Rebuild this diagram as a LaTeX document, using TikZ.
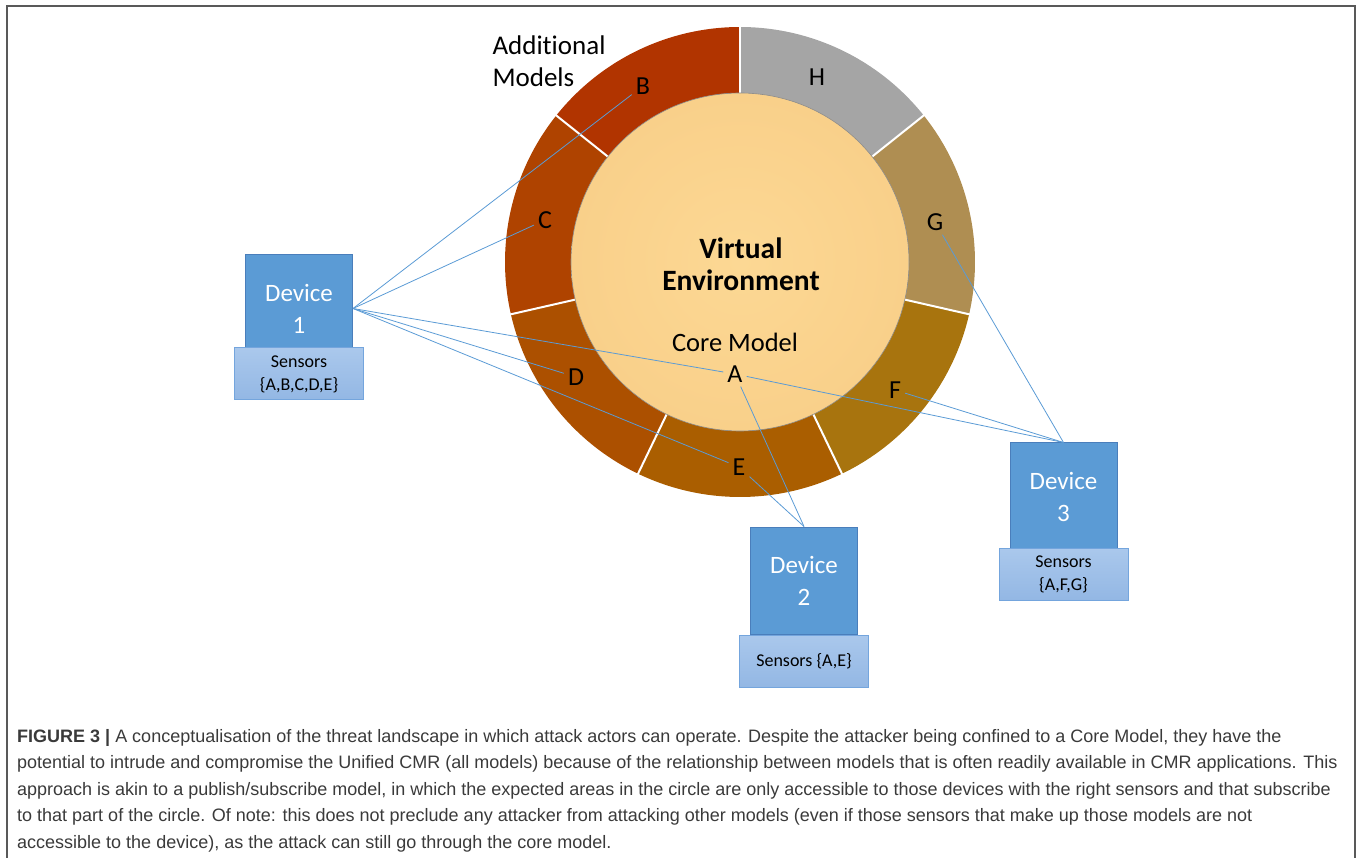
\documentclass[tikz,border=0pt]{standalone}
\usepackage{fontspec}
\setmainfont{Carlito}[Ligatures=NoCommon]
\newfontfamily\capfont{Liberation Sans}
\usetikzlibrary{positioning}

\definecolor{segB}{HTML}{B13400}
\definecolor{segC}{HTML}{AF4300}
\definecolor{segD}{HTML}{AC5000}
\definecolor{segE}{HTML}{AA5E00}
\definecolor{segF}{HTML}{A8740E}
\definecolor{segG}{HTML}{AF8E52}
\definecolor{segH}{HTML}{A5A5A5}
\definecolor{coreIn}{HTML}{FCD894}
\definecolor{coreOut}{HTML}{F9D08A}
\definecolor{devFill}{HTML}{5B9BD5}
\definecolor{devLine}{HTML}{4A7EBB}
\definecolor{sensTop}{HTML}{AAC8EC}
\definecolor{sensBot}{HTML}{93B7E4}
\definecolor{sensLine}{HTML}{74A5DD}
\definecolor{linkCol}{HTML}{5B9BD5}
\definecolor{capText}{HTML}{3A3A3A}

\tikzset{
  device/.style={draw=devLine, fill=devFill, line width=1pt, text=white,
    minimum width=107, minimum height=107, align=center,
    font=\fontsize{25}{32}\selectfont},
  sensors/.style={draw=sensLine, top color=sensTop, bottom color=sensBot,
    line width=1pt, minimum width=129, minimum height=52, align=center,
    font=\fontsize{18}{23}\selectfont},
  seglabel/.style={font=\fontsize{26}{30}\selectfont, inner sep=4pt},
  link/.style={draw=linkCol, line width=0.8pt},
}

\begin{document}
\begin{tikzpicture}[x=1pt, y=1pt]
    \useasboundingbox (0,0) rectangle (1358,-858);

    % Frame
    \draw[black!65, line width=1.5pt] (7,-858) -- (7,-6) -- (1355,-6) -- (1355,-858);

    % Ring of models
    \coordinate (c) at (740,-262);
    \foreach \col [count=\i from 0] in {segB,segC,segD,segE,segF,segG,segH}
        \fill[\col] (c) -- ++({90+\i*360/7}:235)
            arc[start angle={90+\i*360/7}, delta angle={360/7}, radius=235] -- cycle;
    \foreach \i in {0,...,6}
        \draw[white, line width=2pt] (c) ++({90+\i*360/7}:168) -- ++({90+\i*360/7}:68);

    % Core model
    \shade[inner color=coreIn, outer color=coreOut] (c) circle[radius=169];
    \draw[black!45, line width=0.6pt] (c) circle[radius=169];

    % Texts in the circle
    \node[font=\bfseries\fontsize{29.5}{32}\selectfont, align=center] (venv) at (741,-264) {Virtual\\Environment};
    \node[font=\fontsize{26.5}{30}\selectfont] (core) at (735,-342) {Core Model};
    \node[anchor=west, align=left, font=\fontsize{27}{32}\selectfont] (addl) at (489,-61) {Additional\\Models};

    % Segment labels
    \node[seglabel] (lblA) at (735,-374) {A};
    \node[seglabel] (lblB) at (643,-86) {B};
    \node[seglabel] (lblC) at (545,-220) {C};
    \node[seglabel] (lblD) at (576,-377) {D};
    \node[seglabel] (lblE) at (739,-467) {E};
    \node[seglabel] (lblF) at (895,-390) {F};
    \node[seglabel] (lblG) at (935,-222) {G};
    \node[seglabel] (lblH) at (817,-77) {H};

    % Devices
    \node[device] (dev1) at (299,-308.5) {Device\\1};
    \node[sensors, below=-15pt of dev1] (sens1) {Sensors\\\{A,B,C,D,E\}};
    \node[device] (dev2) at (804,-580.5) {Device\\2};
    \node[sensors, below=0pt of dev2] (sens2) {Sensors \{A,E\}};
    \node[device] (dev3) at (1063.5,-496.5) {Device\\3};
    \node[sensors, below=-3pt of dev3] (sens3) {Sensors\\\{A,F,G\}};

    % Links
    \foreach \m in {B,C,D,E,A}
        \draw[link] (dev1.east) -- (lbl\m);
    \foreach \m in {A,E}
        \draw[link] (dev2.north) -- (lbl\m);
    \foreach \m in {A,F,G}
        \draw[link] (dev3.north) -- (lbl\m);

    % Caption
    \foreach \txt [count=\i from 0] in {
        {\textbf{FIGURE 3 |} A conceptualisation of the threat landscape in which attack actors can operate. Despite the attacker being confined to a Core Model, they have the},
        {potential to intrude and compromise the Unified CMR (all models) because of the relationship between models that is often readily available in CMR applications. This},
        {approach is akin to a publish/subscribe model, in which the expected areas in the circle are only accessible to those devices with the right sensors and that subscribe},
        {to that part of the circle. Of note: this does not preclude any attacker from attacking other models (even if those sensors that make up those models are not},
        {accessible to the device), as the attack can still go through the core model.}}
        \node[anchor=base west, inner sep=0pt, text=capText, font=\capfont\fontsize{18}{26}\selectfont]
            (cap\i) at (17,{-742-26.5*\i}) {\txt};
\end{tikzpicture}
\end{document}
